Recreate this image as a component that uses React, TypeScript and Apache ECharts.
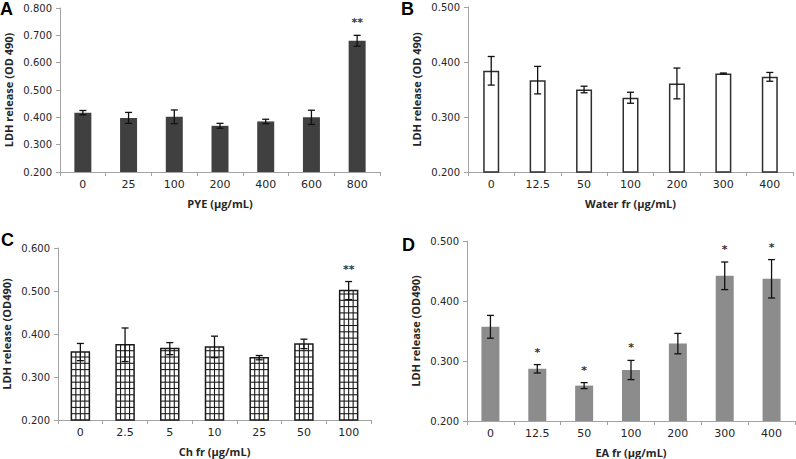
import React, { useEffect, useRef } from "react";
import * as echarts from "echarts";

const catsA = ["0", "25", "100", "200", "400", "600", "800"];
const meanA = [0.417, 0.398, 0.402, 0.369, 0.385, 0.400, 0.680];
const errA = [0.008, 0.02, 0.025, 0.009, 0.008, 0.026, 0.02];
const sigA = ["", "", "", "", "", "", "**"];

const catsB = ["0", "12.5", "50", "100", "200", "300", "400"];
const meanB = [0.384, 0.367, 0.350, 0.335, 0.361, 0.379, 0.373];
const errB = [0.026, 0.025, 0.006, 0.01, 0.028, 0.001, 0.008];
const sigB = ["", "", "", "", "", "", ""];

const catsC = ["0", "2.5", "5", "10", "25", "50", "100"];
const meanC = [0.358, 0.375, 0.366, 0.370, 0.345, 0.377, 0.501];
const errC = [0.02, 0.039, 0.014, 0.025, 0.005, 0.011, 0.021];
const sigC = ["", "", "", "", "", "", "**"];

const catsD = ["0", "12.5", "50", "100", "200", "300", "400"];
const meanD = [0.357, 0.287, 0.259, 0.285, 0.329, 0.442, 0.437];
const errD = [0.019, 0.007, 0.005, 0.016, 0.017, 0.023, 0.032];
const sigD = ["", "*", "*", "*", "", "*", "*"];

const panels = [
  { letter: "A", cats: catsA, mean: meanA, err: errA, sig: sigA, min: 0.2, max: 0.8, xName: "PYE (µg/mL)", yName: "LDH release (OD 490)" },
  { letter: "B", cats: catsB, mean: meanB, err: errB, sig: sigB, min: 0.2, max: 0.5, xName: "Water fr (µg/mL)", yName: "LDH release (OD 490)" },
  { letter: "C", cats: catsC, mean: meanC, err: errC, sig: sigC, min: 0.2, max: 0.6, xName: "Ch fr (µg/mL)", yName: "LDH release (OD490)" },
  { letter: "D", cats: catsD, mean: meanD, err: errD, sig: sigD, min: 0.2, max: 0.5, xName: "EA fr (µg/mL)", yName: "LDH release (OD490)" },
];

const grids = [
  { left: 60, top: 8, width: 320, height: 164 },
  { left: 468, top: 7, width: 325, height: 165 },
  { left: 58, top: 248, width: 313, height: 172 },
  { left: 467, top: 241, width: 328, height: 180 },
];
const letterPos = [
  { x: 0, y: 0 },
  { x: 401, y: 0 },
  { x: 1, y: 231 },
  { x: 402, y: 236 },
];

const AXIS_COLOR = "#a3a3a3";
const TEXT_COLOR = "#262626";
const FONT = "DejaVu Sans";
const BOLD_FONT = "Open Sans";

export default function App() {
  const ref = useRef<HTMLDivElement>(null);
  useEffect(() => {
    if (!ref.current) return;
    const chart = echarts.init(ref.current, undefined, { renderer: "svg" });

    const xAxis = panels.map((p, i) => ({
      type: "category",
      gridIndex: i,
      data: p.cats,
      name: p.xName,
      nameLocation: "middle",
      nameGap: 26,
      nameTextStyle: { fontFamily: BOLD_FONT, fontWeight: "bold", fontSize: 11, color: TEXT_COLOR },
      axisLine: { lineStyle: { color: AXIS_COLOR, width: 1 } },
      axisTick: { show: true, length: 4, lineStyle: { color: AXIS_COLOR } },
      axisLabel: { fontFamily: FONT, fontSize: 11, color: TEXT_COLOR, margin: 7 },
    }));

    const yAxis = panels.map((p, i) => ({
      type: "value",
      gridIndex: i,
      min: p.min,
      max: p.max,
      interval: 0.1,
      name: p.yName,
      nameLocation: "middle",
      nameGap: 46,
      nameRotate: 90,
      nameTextStyle: { fontFamily: BOLD_FONT, fontWeight: "bold", fontSize: 11, color: TEXT_COLOR },
      axisLine: { show: true, lineStyle: { color: AXIS_COLOR, width: 1 } },
      axisTick: { show: true, length: 4, lineStyle: { color: AXIS_COLOR } },
      splitLine: { show: false },
      axisLabel: {
        fontFamily: FONT,
        fontSize: 10,
        color: TEXT_COLOR,
        margin: 8,
        formatter: (v: number) => v.toFixed(3),
      },
    }));

    const series: any[] = [];

    // Panel A bars
    series.push({
      type: "bar",
      xAxisIndex: 0,
      yAxisIndex: 0,
      data: meanA,
      barWidth: 17,
      itemStyle: { color: "#404040" },
    });
    // Panel B bars
    series.push({
      type: "bar",
      xAxisIndex: 1,
      yAxisIndex: 1,
      data: meanB,
      barWidth: 16,
      itemStyle: { color: "#ffffff", borderColor: "#2e2e2e", borderWidth: 1.5 },
    });
    // Panel C bars (grid pattern)
    series.push({
      type: "custom",
      xAxisIndex: 2,
      yAxisIndex: 2,
      data: meanC.map((v, i) => [i, v]),
      renderItem: (params: any, api: any) => {
        const idx = api.value(0);
        const val = api.value(1);
        const top = api.coord([idx, val]);
        const base = api.coord([idx, 0.2]);
        const w = 18;
        const x0 = top[0] - w / 2;
        const y0 = top[1];
        const h = base[1] - top[1];
        const children: any[] = [
          { type: "rect", shape: { x: x0, y: y0, width: w, height: h }, style: { fill: "#ffffff", stroke: "#1a1a1a", lineWidth: 1.5 } },
        ];
        const cols = 4;
        for (let c = 1; c < cols; c++) {
          const xx = x0 + (w * c) / cols;
          children.push({ type: "line", shape: { x1: xx, y1: y0, x2: xx, y2: base[1] }, style: { stroke: "#1a1a1a", lineWidth: 1.1 } });
        }
        for (let yy = base[1] - 6.3; yy > y0 + 1; yy -= 6.3) {
          children.push({ type: "line", shape: { x1: x0, y1: yy, x2: x0 + w, y2: yy }, style: { stroke: "#1a1a1a", lineWidth: 1.1 } });
        }
        return { type: "group", children };
      },
      z: 2,
    });
    // Panel D bars
    series.push({
      type: "bar",
      xAxisIndex: 3,
      yAxisIndex: 3,
      data: meanD,
      barWidth: 18,
      itemStyle: { color: "#8c8c8c" },
    });

    // Error bars + significance marks
    panels.forEach((p, i) => {
      series.push({
        type: "custom",
        xAxisIndex: i,
        yAxisIndex: i,
        z: 5,
        data: p.mean.map((m, j) => [j, m, p.err[j], p.sig[j]]),
        renderItem: (params: any, api: any) => {
          const idx = api.value(0);
          const m = api.value(1);
          const e = api.value(2);
          const s = p.sig[params.dataIndex];
          const hi = api.coord([idx, m + e]);
          const lo = api.coord([idx, m - e]);
          const cap = 3.5;
          const st = { stroke: "#111111", lineWidth: 1.3 };
          const children: any[] = [
            { type: "line", shape: { x1: hi[0], y1: hi[1], x2: lo[0], y2: lo[1] }, style: st },
            { type: "line", shape: { x1: hi[0] - cap, y1: hi[1], x2: hi[0] + cap, y2: hi[1] }, style: st },
            { type: "line", shape: { x1: lo[0] - cap, y1: lo[1], x2: lo[0] + cap, y2: lo[1] }, style: st },
          ];
          if (s) {
            children.push({
              type: "text",
              x: hi[0],
              y: hi[1] - 7,
              style: {
                text: s,
                fill: "#333333",
                font: "bold 11px " + FONT,
                align: "center",
                verticalAlign: "bottom",
              },
            });
          }
          return { type: "group", children };
        },
      });
    });

    chart.setOption({
      animation: false,
      backgroundColor: "#ffffff",
      grid: grids.map((g) => ({ ...g, containLabel: false })),
      xAxis,
      yAxis,
      series,
      graphic: panels.map((p, i) => ({
        type: "text",
        left: letterPos[i].x,
        top: letterPos[i].y,
        style: {
          text: p.letter,
          font: "bold 18px " + "Liberation Sans",
          fill: "#000000",
        },
      })),
    });
    return () => chart.dispose();
  }, []);
  return <div ref={ref} style={{ width: 796, height: 459, position: "absolute", left: 0, top: 0 }} />;
}
